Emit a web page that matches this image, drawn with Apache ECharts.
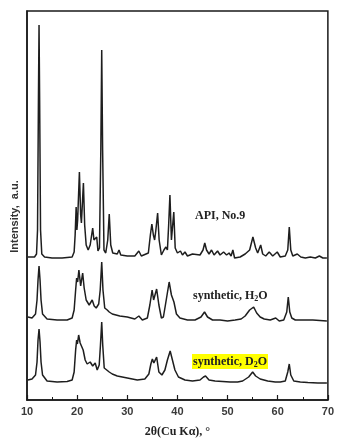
<!DOCTYPE html>
<html><head><meta charset="utf-8">
<script src="https://cdn.jsdelivr.net/npm/echarts@6/dist/echarts.min.js"></script>
<style>html,body{margin:0;padding:0;background:#fff}#c{width:337px;height:443px}</style>
</head><body><div id="c"></div>
<script>
// x: 2θ (degrees), y: intensity (a.u., stacked traces)
const xTicks = [10, 20, 30, 40, 50, 60, 70];
const seriesNames = ['API, No.9', 'synthetic, H2O', 'synthetic, D2O'];

const apiNo9 = [[10.2,143],[11.5,143],[11.9,146],[12.1,170],[12.28,300],[12.4,375],[12.52,300],[12.7,170],[12.95,146],[13.5,143],[15,142],[17,142],[19.0,143],[19.4,148],[19.6,165],[19.8,193],[19.95,170],[20.1,180],[20.45,228],[20.7,185],[20.85,177],[21.25,217],[21.5,175],[21.8,155],[22.2,150],[22.6,155],[23.1,172],[23.35,160],[23.6,158],[23.9,163],[24.15,149],[24.45,152],[24.72,250],[24.9,350],[25.08,250],[25.35,150],[25.7,147],[26.1,160],[26.4,186],[26.7,155],[27.1,147],[28.0,146],[28.35,150],[28.7,145],[30,144],[31.5,144],[32.3,149],[32.8,144],[34.2,147],[34.6,165],[34.9,176],[35.2,165],[35.45,160],[35.7,170],[36.05,187],[36.35,160],[36.8,145],[37.3,150],[37.7,153],[38.0,150],[38.25,175],[38.5,205],[38.8,160],[39.0,160],[39.27,188],[39.55,152],[40.0,147],[40.6,149],[41.0,145],[41.5,148],[42.0,144],[43.0,146],[44.5,145],[45.1,150],[45.45,157],[45.8,150],[46.3,146],[46.8,150],[47.3,145],[48.0,149],[48.5,145],[49.2,148],[49.8,145],[50.3,147],[50.7,144],[51.05,150],[51.4,142],[52.5,143],[53.5,146],[54.4,150],[55.05,163],[55.6,152],[56.0,147],[56.6,155],[57.0,146],[57.6,144],[58.3,148],[59.0,144],[59.9,148],[60.5,143],[61.5,144],[62.0,150],[62.3,173],[62.6,150],[63.0,144],[63.9,146],[64.6,143],[65.5,142],[66.5,143],[67.5,142],[68.3,144],[69.0,142],[69.8,142]];

const synthH2O = [[10.2,83],[11.0,82],[11.7,86],[12.0,100],[12.2,120],[12.4,134],[12.6,120],[12.8,100],[13.1,86],[14,81],[16,80],[18,80],[19.0,82],[19.4,90],[19.7,110],[19.9,122],[20.1,118],[20.35,130],[20.7,114],[21.1,127],[21.4,112],[21.8,100],[22.4,95],[23.0,100],[23.4,94],[23.8,92],[24.3,96],[24.6,110],[24.9,138],[25.15,110],[25.5,92],[26.0,90],[26.4,88],[27.0,86],[28.5,84],[30,83],[31.5,81],[32.3,84],[33,80],[34.0,82],[34.5,95],[34.95,110],[35.25,100],[35.4,98],[35.85,111],[36.3,95],[36.8,82],[37.2,83],[37.6,95],[38.35,118],[38.8,105],[39.3,98],[39.8,86],[40.5,82],[42,80],[43.5,80],[44.7,83],[45.4,88],[46.0,83],[47,80],[48.5,80],[50,79],[51.5,80],[52.7,81],[53.5,84],[54.4,90],[55.2,93],[55.8,87],[56.5,83],[57.3,81],[58.5,80],[59.6,82],[60.3,79],[61.2,80],[61.8,88],[62.1,103],[62.4,88],[62.8,82],[63.5,80],[65,80],[67,80],[69.8,79]];

const synthD2O = [[10.2,20],[11.0,21],[11.7,25],[12.0,38],[12.2,60],[12.4,71],[12.6,58],[12.8,38],[13.1,25],[14,19],[16,18],[18,18.5],[19.0,20],[19.4,28],[19.7,50],[19.9,60],[20.05,56],[20.3,65],[20.6,57],[20.9,59],[21.2,50],[21.6,40],[22.0,36],[22.6,38],[23.1,34],[23.6,37],[24.0,30],[24.4,35],[24.65,55],[24.9,78],[25.1,55],[25.4,32],[25.9,30],[26.4,28],[27.0,26],[28,24],[30,22],[32,20],[33.5,21],[34.3,26],[34.7,36],[35.0,41],[35.3,37],[35.5,38],[35.85,43],[36.3,28],[36.9,25],[37.5,30],[38.0,40],[38.55,49],[39.0,40],[39.5,30],[40.2,23],[41.5,20],[43,19],[44.5,20],[45.2,23],[45.6,24],[46.3,20],[47.5,19],[49,18.5],[50.5,18],[52,18],[53,19],[54.2,23],[55.0,28],[55.6,24],[56.5,21],[58,19],[59.5,18],[60.5,18],[61.5,19],[62.0,28],[62.3,36],[62.6,25],[63.2,19],[64.5,18],[66,17.5],[68,17],[69.8,17]];

const chart = echarts.init(document.getElementById('c'), null, {renderer: 'canvas'});
const lineSeries = (name, data) => ({
  name, type: 'line', data, symbol: 'none', smooth: false,
  lineStyle: {color: '#1e1e1e', width: 1.5}, silent: true, animation: false
});
const serif = '"Liberation Serif","DejaVu Serif",serif';
const sans = '"Liberation Sans",Arial,sans-serif';
chart.setOption({
  animation: false,
  backgroundColor: '#fff',
  grid: {left: 27, right: 6, top: 11, bottom: 43, show: true, borderColor: '#1a1a1a', borderWidth: 1.5, backgroundColor: 'transparent'},
  xAxis: {
    type: 'value', min: xTicks[0], max: xTicks[xTicks.length - 1], interval: 10,
    axisLine: {show: true, lineStyle: {color: '#1a1a1a', width: 1.5}},
    axisTick: {show: true, inside: true, length: 5, lineStyle: {color: '#1a1a1a', width: 1.2}},
    minorTick: {show: true, splitNumber: 2, length: 3, lineStyle: {color: '#1a1a1a', width: 1}},
    splitLine: {show: false},
    axisLabel: {margin: 6, color: '#3a3a3a', fontFamily: sans, fontWeight: 'bold', fontSize: 11},
    name: '2θ(Cu Kα), °', nameLocation: 'middle', nameGap: 26,
    nameTextStyle: {fontFamily: serif, fontWeight: 'bold', fontSize: 12, color: '#222'}
  },
  yAxis: {
    type: 'value', min: 0, max: 389,
    axisLine: {show: true, lineStyle: {color: '#1a1a1a', width: 1.5}},
    axisTick: {show: false}, axisLabel: {show: false}, splitLine: {show: false},
    name: 'Intensity,  a.u.', nameLocation: 'middle', nameGap: 7, nameRotate: 90,
    nameTextStyle: {fontFamily: sans, fontWeight: 'bold', fontSize: 11, color: '#333', padding: [0, 0, 0, -22]}
  },
  series: [
    lineSeries(seriesNames[0], apiNo9),
    lineSeries(seriesNames[1], synthH2O),
    lineSeries(seriesNames[2], synthD2O)
  ],
  graphic: [
    {type: 'text', left: 195, top: 210, silent: true,
     style: {text: 'API, No.9', font: 'bold 12px ' + serif, fill: '#222'}},
    {type: 'text', left: 193, top: 290, silent: true,
     style: {text: 'synthetic, H{s|2}O', font: 'bold 12px ' + serif, fill: '#222',
       rich: {s: {font: 'bold 8px ' + serif, fill: '#222', padding: [6, 0, 0, 0]}}}},
    {type: 'text', left: 192, top: 354, silent: true,
     style: {text: 'synthetic, D{s|2}O', font: 'bold 12px ' + serif, fill: '#222',
       backgroundColor: '#ffff00', padding: [1, 1, 0, 1],
       rich: {s: {font: 'bold 8px ' + serif, fill: '#222', padding: [6, 0, 0, 0]}}}}
  ]
});
</script></body></html>
